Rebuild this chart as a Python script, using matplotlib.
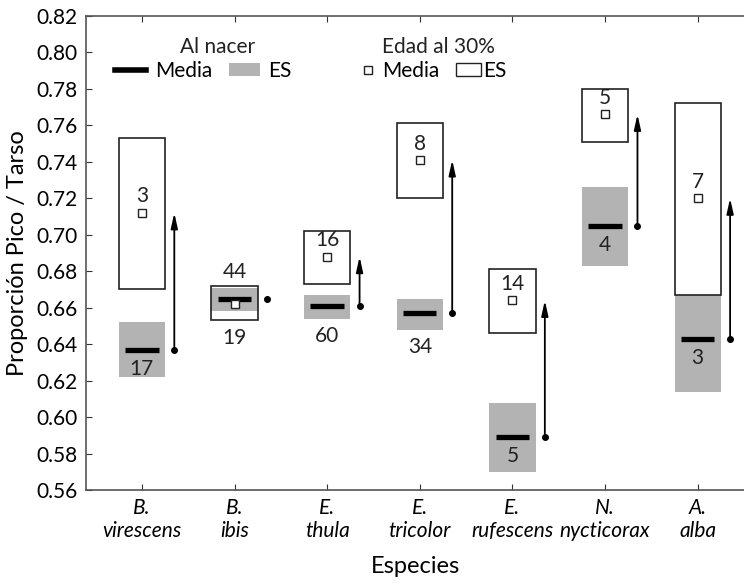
import matplotlib.pyplot as plt
import numpy as np
from matplotlib.lines import Line2D
from matplotlib.patches import Patch, Rectangle

plt.rcParams['font.family'] = ['Lato', 'DejaVu Sans']

# species
species = ['B.\nvirescens', 'B.\nibis', 'E.\nthula', 'E.\ntricolor',
           'E.\nrufescens', 'N.\nnycticorax', 'A.\nalba']
# al nacer: media, ES inferior / superior, n
birth_mean = [0.637, 0.665, 0.661, 0.657, 0.589, 0.705, 0.643]
birth_lo = [0.622, 0.658, 0.654, 0.648, 0.570, 0.683, 0.614]
birth_hi = [0.652, 0.671, 0.667, 0.665, 0.608, 0.726, 0.667]
birth_n = [17, 44, 60, 34, 5, 4, 3]
# edad al 30%: media, ES inferior / superior, n
age_mean = [0.712, 0.662, 0.688, 0.741, 0.664, 0.766, 0.720]
age_lo = [0.670, 0.653, 0.673, 0.720, 0.646, 0.751, 0.667]
age_hi = [0.753, 0.672, 0.702, 0.761, 0.681, 0.780, 0.772]
age_n = [3, 19, 16, 8, 14, 5, 7]
# where the n labels go
birth_lab = ['in', 'above', 'below', 'below', 'in', 'in', 'in']
age_lab = ['in', 'below', 'in', 'in', 'in', 'in', 'in']

gray = '#b3b3b3'
dark = '#222222'
fs = 15
bw = 0.25   # half box width
mw = 0.18   # half mean line width
off = 0.35  # arrow offset

fig = plt.figure(figsize=(7.44, 5.87), dpi=100)
ax = fig.add_axes([0.116, 0.165, 0.884, 0.808])

x = np.arange(len(species))
for i in x:
    # 30% box fill
    ax.add_patch(Rectangle((i - bw, age_lo[i]), 2 * bw, age_hi[i] - age_lo[i],
                           facecolor='white', edgecolor='none', zorder=1))
    # birth SE box
    ax.add_patch(Rectangle((i - bw, birth_lo[i]), 2 * bw, birth_hi[i] - birth_lo[i],
                           facecolor=gray, edgecolor='none', zorder=2))
    # 30% box outline
    ax.add_patch(Rectangle((i - bw, age_lo[i]), 2 * bw, age_hi[i] - age_lo[i],
                           facecolor='none', edgecolor=dark, lw=1.2, zorder=3))
    ax.plot([i - mw, i + mw], [birth_mean[i], birth_mean[i]], color='black',
            lw=3.8, solid_capstyle='butt', zorder=4)
    ax.plot(i, age_mean[i], marker='s', ms=6, mfc='white', mec=dark,
            mew=1, zorder=5)
    # arrow from birth mean to 30% mean
    ax.plot(i + off, birth_mean[i], marker='o', ms=4, color='black', zorder=5)
    if abs(age_mean[i] - birth_mean[i]) > 0.005:
        ax.annotate('', xy=(i + off, age_mean[i]), xytext=(i + off, birth_mean[i]),
                    arrowprops=dict(arrowstyle='-|>,head_length=0.9,head_width=0.2',
                                    color='black', lw=1.3, shrinkA=0, shrinkB=0),
                    zorder=5)
    # n labels
    if birth_lab[i] == 'in':
        ax.text(i, birth_mean[i] - 0.0105, str(birth_n[i]), ha='center', va='center',
                fontsize=fs, color=dark, zorder=6)
    elif birth_lab[i] == 'below':
        ax.text(i, birth_lo[i] - 0.004, str(birth_n[i]), ha='center', va='top',
                fontsize=fs, color=dark, zorder=6)
    else:
        ax.text(i, age_hi[i] + 0.002, str(birth_n[i]), ha='center', va='bottom',
                fontsize=fs, color=dark, zorder=6)
    if age_lab[i] == 'in':
        ax.text(i, age_mean[i] + 0.009, str(age_n[i]), ha='center', va='center',
                fontsize=fs, color=dark, zorder=6)
    else:
        ax.text(i, age_lo[i] - 0.004, str(age_n[i]), ha='center', va='top',
                fontsize=fs, color=dark, zorder=6)

ax.set_xlim(-0.6, 6.5)
ax.set_ylim(0.56, 0.82)
yt = np.arange(0.56, 0.821, 0.02)
ax.set_yticks(yt)
ax.set_yticklabels(['%.2f' % v for v in yt], fontsize=fs)
ax.set_xticks(x)
ax.set_xticklabels(species, fontsize=fs, style='italic', linespacing=1.15)
ax.tick_params(direction='in', top=True, length=4, color='#333333', pad=6)
ax.spines['right'].set_visible(False)
for s in ['left', 'top', 'bottom']:
    ax.spines[s].set_color('#555555')
    ax.spines[s].set_linewidth(1.2)
ax.set_ylabel('Proporción Pico / Tarso', fontsize=17, labelpad=6)
ax.set_xlabel('Especies', fontsize=17, labelpad=11)

# legends
ax.text(0.20, 0.934, 'Al nacer', transform=ax.transAxes, ha='center', va='center',
        fontsize=fs, color=dark)
ax.text(0.536, 0.934, 'Edad al 30%', transform=ax.transAxes, ha='center', va='center',
        fontsize=fs, color=dark)
h1 = [Line2D([], [], color='black', lw=4), Patch(facecolor=gray, edgecolor='none')]
leg1 = ax.legend(h1, ['Media', 'ES'], ncol=2, frameon=False, fontsize=fs,
                 loc='center', bbox_to_anchor=(0.178, 0.884), handlelength=1.5,
                 handletextpad=0.4, columnspacing=0.8, borderpad=0, handleheight=0.6)
ax.add_artist(leg1)
h2 = [Line2D([], [], ls='none', marker='s', ms=6, mfc='white', mec=dark),
      Patch(facecolor='white', edgecolor=dark)]
ax.legend(h2, ['Media', 'ES'], ncol=2, frameon=False, fontsize=fs,
          loc='center', bbox_to_anchor=(0.524, 0.884), handlelength=1.2,
          handletextpad=0.1, columnspacing=0.8, borderpad=0, handleheight=0.6)

fig.savefig('out.png', dpi=100)
